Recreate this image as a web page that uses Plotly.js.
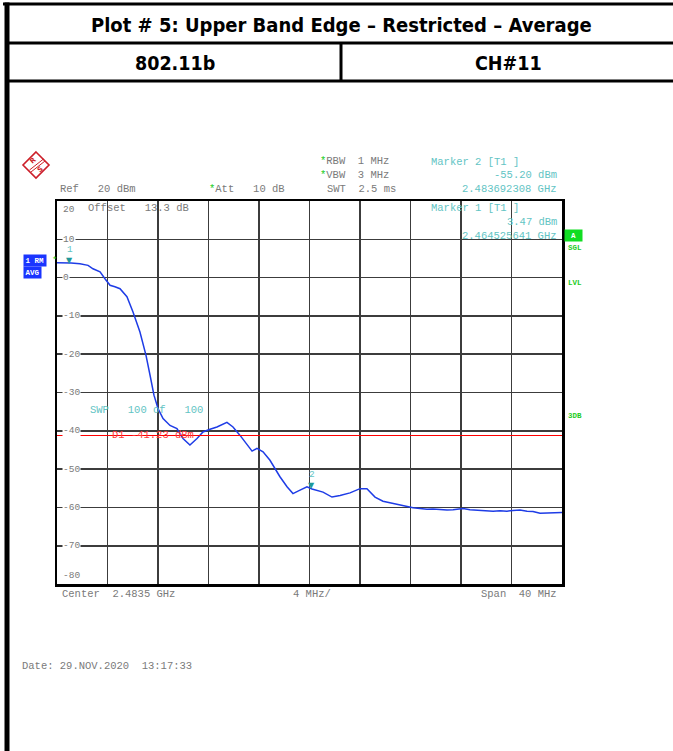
<!DOCTYPE html>
<html>
<head>
<meta charset="utf-8">
<script src="https://cdn.plot.ly/plotly-3.0.1.min.js"></script>
<style>html,body{margin:0;padding:0;background:#fff;}#chart{width:673px;height:751px;}</style>
</head>
<body>
<div id="chart"></div>
<script>
// ---- data ----
const freqGHz = [2.46350, 2.46390, 2.46461, 2.46532, 2.46596, 2.46635, 2.46691, 2.46730, 2.46770, 2.46809,
  2.46849, 2.46904, 2.46952, 2.47007, 2.47055, 2.47087, 2.47118, 2.47150, 2.47190, 2.47245,
  2.47300, 2.47348, 2.47403, 2.47459, 2.47506, 2.47562, 2.47617, 2.47696, 2.47744, 2.47800,
  2.47855, 2.47895, 2.47934, 2.47982, 2.48037, 2.48077, 2.48116, 2.48172, 2.48219, 2.48275,
  2.48330, 2.48370, 2.48457, 2.48528, 2.48592, 2.48671, 2.48750, 2.48805, 2.48869, 2.48932,
  2.49011, 2.49091, 2.49170, 2.49225, 2.49281, 2.49328, 2.49383, 2.49439, 2.49487, 2.49526,
  2.49566, 2.49621, 2.49700, 2.49756, 2.49804, 2.49859, 2.49914, 2.49962, 2.50017, 2.50073,
  2.50120, 2.50176, 2.50231, 2.50295, 2.50350];
const levelDBm = [3.9, 3.9, 3.8, 3.6, 3.2, 2.3, 1.5, -0.3, -2.0, -2.4,
  -2.9, -5.0, -9.0, -14.2, -20.3, -25.5, -30.7, -34.2, -36.8, -38.6,
  -39.4, -42.0, -43.7, -42.0, -40.3, -39.6, -39.0, -37.8, -39.0, -41.2,
  -43.7, -45.3, -44.6, -45.5, -47.7, -49.9, -52.0, -54.6, -56.4, -55.5,
  -54.6, -55.2, -56.0, -57.3, -56.9, -56.2, -55.1, -55.1, -57.3, -58.4,
  -59.0, -59.6, -60.1, -60.3, -60.5, -60.4, -60.6, -60.7, -60.6, -60.4,
  -60.3, -60.6, -60.8, -60.9, -61.0, -60.9, -61.0, -60.8, -60.7, -61.0,
  -61.1, -61.5, -61.4, -61.3, -61.3];
const markerNames = ["1", "2"];
const markerFreq = [2.464525641, 2.483692308];
const markerLevel = [3.47, -55.20];
const displayLineLevel = -41.23;
const freqStart = 2.4635, freqStop = 2.5035, freqDiv = 0.004;
const yTickVals = [20, 10, 0, -10, -20, -30, -40, -50, -60, -70, -80];
const yTickText = ["20", "10", "0", "-10", "-20", "-30", "-40", "-50", "-60", "-70", "-80"];
const titleText = "Plot # 5: Upper Band Edge \u2013 Restricted \u2013 Average";
const modeText = "802.11b";
const channelText = "CH#11";

// ---- layout helpers (pixel -> paper) ----
const L = 57, R = 111, T = 201, B = 167, W = 673, H = 751;
const PW = W - L - R, PH = H - T - B;
const PX = x => (x - L) / PW;
const PY = y => (H - B - y) / PH;
const NB = '\u00a0';
const sp = s => s.split(/(<[^>]+>)/).map(p => p.charAt(0) === '<' ? p : p.replace(/ /g, NB)).join('');

const mono = "Liberation Mono, Courier New, monospace";
const narrow = "Liberation Sans Narrow, Arial Narrow, DejaVu Sans Condensed, sans-serif";
const GREY = "#7a7a7a", TEAL = "#62c4c4", TEALD = "#1f9898", GREEN = "#22cc22", RED = "#ff3a3a", BLUE = "#1a35ff";

function txt(x, y, text, color, opts) {
  opts = opts || {};
  return Object.assign({
    xref: 'paper', yref: 'paper', x: PX(x), y: PY(y), text: sp(text),
    showarrow: false, xanchor: opts.anchor || 'left', yanchor: 'middle',
    font: {family: mono, size: opts.size || 10.5, color: color}
  }, opts.extra || {});
}

const ann = [];
// header table text
ann.push({xref:'paper', yref:'paper', x: PX(341), y: PY(25), text: '<b>' + titleText + '</b>', showarrow:false,
  xanchor:'center', yanchor:'middle', font:{family: narrow, size: 20, color:'#000'}});
ann.push({xref:'paper', yref:'paper', x: PX(175), y: PY(63), text: '<b>' + modeText + '</b>', showarrow:false,
  xanchor:'center', yanchor:'middle', font:{family: narrow, size: 19.5, color:'#000'}});
ann.push({xref:'paper', yref:'paper', x: PX(508), y: PY(63), text: '<b>' + channelText + '</b>', showarrow:false,
  xanchor:'center', yanchor:'middle', font:{family: narrow, size: 19.5, color:'#000'}});

// instrument settings text
const star = '<span style="color:' + GREEN + '">*</span>';
ann.push(txt(318, 161, star + 'RBW  1 MHz', GREY));
ann.push(txt(318, 175, star + 'VBW  3 MHz', GREY));
ann.push(txt(325, 189, 'SWT  2.5 ms', GREY));
ann.push(txt(58, 189, 'Ref   20 dBm', GREY));
ann.push(txt(207, 189, star + 'Att   10 dB', GREY));
ann.push(txt(429, 162, 'Marker 2 [T1 ]', TEAL));
ann.push(txt(559, 175, markerLevel[1].toFixed(2) + ' dBm', TEAL, {anchor:'right'}));
ann.push(txt(559, 189, markerFreq[1].toFixed(9) + ' GHz', TEAL, {anchor:'right'}));
ann.push(txt(429, 208, 'Marker 1 [T1 ]', TEAL));
ann.push(txt(559, 222, markerLevel[0].toFixed(2) + ' dBm', TEAL, {anchor:'right'}));
ann.push(txt(559, 236, markerFreq[0].toFixed(9) + ' GHz', TEAL, {anchor:'right'}));
ann.push(txt(86, 208, 'Offset   13.3 dB', GREY));
ann.push(txt(88, 410, 'SWP   100 of   100', TEAL));
ann.push(txt(110, 435, 'D1 ' + displayLineLevel.toFixed(2) + ' dBm', RED));
ann.push(txt(60, 594, 'Center  2.4835 GHz', GREY));
ann.push(txt(291, 594, '4 MHz/', GREY));
ann.push(txt(559, 594, 'Span  40 MHz', GREY, {anchor:'right'}));
ann.push(txt(20, 666, 'Date: 29.NOV.2020  13:17:33', GREY));

// side labels
ann.push({xref:'paper', yref:'paper', x: PX(23), y: PY(260.5), xanchor:'left', yanchor:'middle', showarrow:false,
  text:'<b>1' + NB + 'RM</b>', bgcolor: BLUE, borderpad: 1.5, font:{family: mono, size: 7.5, color:'#fff'}});
ann.push({xref:'paper', yref:'paper', x: PX(23), y: PY(272.5), xanchor:'left', yanchor:'middle', showarrow:false,
  text:'<b>AVG</b>', bgcolor: BLUE, borderpad: 1.5, font:{family: mono, size: 7.5, color:'#fff'}});
ann.push(txt(49.5, 261, '*', GREEN, {size: 9}));
ann.push({xref:'paper', yref:'paper', x: PX(573.5), y: PY(235), xanchor:'center', yanchor:'middle', showarrow:false,
  text:'<b>A</b>', bgcolor: '#11dd22', width: 16, height: 10, borderpad: 0.5, font:{family: mono, size: 7.5, color:'#fff'}});
ann.push(txt(566, 248, '<b>SGL</b>', GREEN, {size: 7.5}));
ann.push(txt(566, 283, '<b>LVL</b>', GREEN, {size: 7.5}));
ann.push(txt(566, 416, '<b>3DB</b>', GREEN, {size: 7.5}));

// y tick labels inside plot
yTickVals.forEach((v, i) => {
  let ys = 0;
  if (i === 0) ys = -8;
  if (i === yTickVals.length - 1) ys = 9;
  ann.push({xref:'paper', yref:'y', x: PX(62), y: v, yshift: ys, xanchor:'left', yanchor:'middle', showarrow:false,
    text: yTickText[i], bgcolor: (i === 0 || i === yTickVals.length - 1) ? 'rgba(0,0,0,0)' : '#fff', borderpad: 0,
    font:{family: mono, size: 9.5, color: GREY}});
});

// markers
markerNames.forEach((n, i) => {
  ann.push({xref:'x', yref:'y', x: markerFreq[i], y: markerLevel[i], yshift: -3, xanchor:'center', yanchor:'bottom', showarrow:false,
    text:'\u25BC', font:{family:'DejaVu Sans', size: 8, color: TEALD}});
  ann.push({xref:'x', yref:'y', x: markerFreq[i], y: markerLevel[i], yshift: 7, xanchor:'center', yanchor:'bottom', showarrow:false,
    text: n, font:{family: mono, size: 9.5, color: TEAL}});
});

// page/table borders and logo
const shapes = [];
function line(x0, y0, x1, y1, w, c) {
  shapes.push({type:'line', xref:'paper', yref:'paper', x0: PX(x0), y0: PY(y0), x1: PX(x1), y1: PY(y1),
    line:{color: c || '#000', width: w}});
}
line(3, 4, 673, 4, 3);
line(7, 2.5, 7, 751, 5);
line(7, 43, 673, 43, 3);
line(7, 81, 673, 81, 3);
line(341, 43, 341, 81, 3);
// R&S logo
const lp = (pts) => 'M ' + pts.map(p => PX(p[0]) + ',' + PY(p[1])).join(' L ') + ' Z';
shapes.push({type:'path', xref:'paper', yref:'paper', path: lp([[36,152],[49,165],[36,178],[23,165]]),
  line:{color:'#cc1f2a', width: 1.6}, fillcolor:'rgba(0,0,0,0)'});
line(43.5, 159, 29.5, 170, 1, '#cc1f2a');
line(45, 161, 31, 172, 1, '#cc1f2a');
ann.push({xref:'paper', yref:'paper', x: PX(32.5), y: PY(160.5), xanchor:'center', yanchor:'middle', showarrow:false,
  text:'<b>R</b>', textangle: -40, font:{family:'DejaVu Sans', size: 7, color:'#cc1f2a'}});
ann.push({xref:'paper', yref:'paper', x: PX(40), y: PY(170), xanchor:'center', yanchor:'middle', showarrow:false,
  text:'<b>S</b>', textangle: -40, font:{family:'DejaVu Sans', size: 7, color:'#cc1f2a'}});

const traces = [
  {x: freqGHz, y: levelDBm, type:'scatter', mode:'lines', line:{color:'#1e3ce6', width: 1.5}, hoverinfo:'skip'},
  {x: [freqStart, freqStop], y: [displayLineLevel, displayLineLevel], type:'scatter', mode:'lines',
   line:{color:'#ff0000', width: 1.2}, hoverinfo:'skip'}
];

const layout = {
  width: W, height: H,
  margin: {l: L, r: R, t: T, b: B, pad: 0},
  paper_bgcolor: '#fff', plot_bgcolor: '#fff',
  showlegend: false,
  xaxis: {range: [freqStart, freqStop], tick0: freqStart, dtick: freqDiv, showticklabels: false, ticks: '',
    showgrid: true, gridcolor: '#3c3c3c', gridwidth: 1.6, zeroline: false,
    showline: true, mirror: true, linecolor: '#000', linewidth: 2.5, fixedrange: true},
  yaxis: {range: [-80, 20], tickvals: yTickVals, showticklabels: false, ticks: '',
    showgrid: true, gridcolor: '#3c3c3c', gridwidth: 1.6, zeroline: false,
    showline: true, mirror: true, linecolor: '#000', linewidth: 2.5, fixedrange: true},
  annotations: ann,
  shapes: shapes
};

Plotly.newPlot('chart', traces, layout, {staticPlot: true, displayModeBar: false});
</script>
</body>
</html>
